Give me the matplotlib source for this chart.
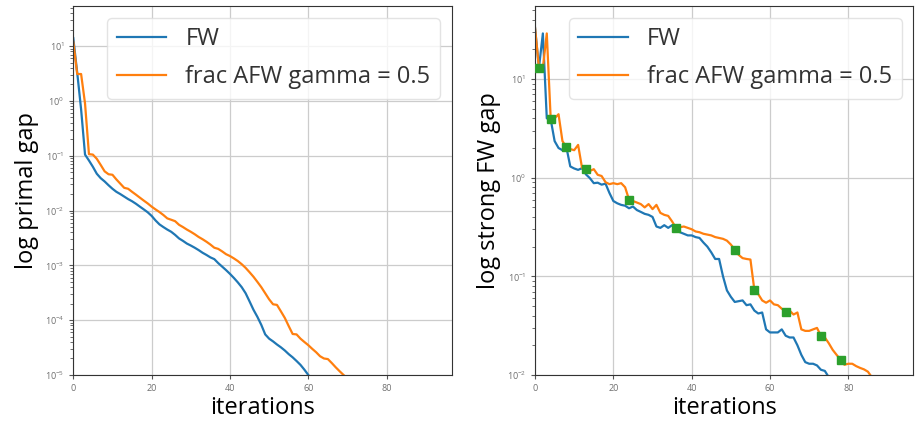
import matplotlib.pyplot as plt
import numpy as np

plt.rcParams["font.family"] = ["Open Sans", "DejaVu Sans"]

# left panel: primal gap
fw_primal = [14, 3.3, 0.7, 0.105, 0.082, 0.063, 0.047, 0.039, 0.034, 0.029,
             0.025, 0.022, 0.020, 0.018, 0.0162, 0.0148, 0.0133, 0.0118, 0.0105, 0.0093,
             0.0080, 0.0066, 0.0056, 0.0050, 0.0045, 0.0041, 0.0036, 0.0031, 0.0028, 0.0025,
             0.0023, 0.0021, 0.0019, 0.0017, 0.00155, 0.0014, 0.0013, 0.0011, 0.00095, 0.00082,
             0.0007, 0.00059, 0.00049, 0.0004, 0.00031, 0.00022, 0.000155, 0.000115, 0.000082, 0.000055,
             0.000046, 0.000041, 0.000036, 0.000032, 0.000028, 0.000024, 0.000021, 0.000018, 0.0000153, 0.0000125,
             0.00001, 0.0000082]
afw_primal = [12, 3.1, 3.1, 0.9, 0.107, 0.105, 0.088, 0.068, 0.052, 0.046,
              0.045, 0.037, 0.031, 0.026, 0.025, 0.022, 0.0195, 0.0172, 0.0152, 0.0135,
              0.0118, 0.0105, 0.0094, 0.0083, 0.0072, 0.0068, 0.0064, 0.0055, 0.005, 0.0045,
              0.0041, 0.0037, 0.0033, 0.003, 0.0027, 0.0024, 0.0021, 0.002, 0.0018, 0.0016,
              0.00148, 0.00134, 0.0012, 0.00105, 0.0009, 0.00075, 0.00062, 0.0005, 0.0004, 0.00031,
              0.00024, 0.000195, 0.00019, 0.000145, 0.00011, 0.000078, 0.000056, 0.000055, 0.000046, 0.00004,
              0.000035, 0.00003, 0.000026, 0.000022, 0.00002, 0.0000195, 0.0000165, 0.0000138, 0.0000117, 0.00001,
              0.0000085]

# right panel: strong FW gap
fw_gap = [33, 13, 29, 4.0, 3.9, 2.35, 2.0, 1.9, 2.04, 1.3,
          1.24, 1.2, 1.25, 1.08, 0.99, 0.88, 0.89, 0.85, 0.87, 0.70,
          0.58, 0.55, 0.53, 0.52, 0.49, 0.51, 0.47, 0.45, 0.43, 0.42,
          0.40, 0.32, 0.31, 0.33, 0.31, 0.33, 0.31, 0.28, 0.27, 0.26,
          0.26, 0.25, 0.245, 0.22, 0.2, 0.175, 0.15, 0.15, 0.1, 0.072,
          0.062, 0.055, 0.056, 0.057, 0.051, 0.052, 0.045, 0.042, 0.043, 0.029,
          0.027, 0.027, 0.027, 0.029, 0.025, 0.024, 0.024, 0.02, 0.016, 0.0135,
          0.013, 0.013, 0.0125, 0.0113, 0.011, 0.0095]
afw_gap = [33, 13, 13, 29, 3.95, 4.0, 4.4, 2.35, 2.04, 1.95,
           1.9, 2.15, 1.26, 1.22, 1.17, 1.22, 1.07, 1.04, 0.9, 0.86,
           0.88, 0.86, 0.88, 0.8, 0.6, 0.58, 0.56, 0.54, 0.5, 0.54,
           0.48, 0.53, 0.44, 0.42, 0.41, 0.36, 0.31, 0.315, 0.32, 0.31,
           0.3, 0.285, 0.28, 0.27, 0.265, 0.26, 0.25, 0.245, 0.24, 0.23,
           0.21, 0.187, 0.165, 0.153, 0.15, 0.148, 0.073, 0.066, 0.057, 0.054,
           0.057, 0.052, 0.051, 0.047, 0.044, 0.045, 0.041, 0.043, 0.029, 0.028,
           0.028, 0.029, 0.030, 0.025, 0.024, 0.021, 0.018, 0.016, 0.0143, 0.0127,
           0.013, 0.013, 0.0123, 0.0118, 0.0114, 0.0108, 0.0095]
marker_iters = [1, 4, 8, 13, 24, 36, 51, 56, 64, 73, 78]

labels = ["FW", "frac AFW gamma = 0.5"]

fig = plt.figure(figsize=(9.16, 4.23), dpi=100)
ax1 = fig.add_axes([0.080, 0.1135, 0.4131, 0.8723])
ax2 = fig.add_axes([0.5841, 0.1135, 0.4130, 0.8723])

ax1.plot(np.arange(len(fw_primal)), fw_primal, color="C0", lw=1.6, label=labels[0])
ax1.plot(np.arange(len(afw_primal)), afw_primal, color="C1", lw=1.6, label=labels[1])
ax1.set_ylim(1e-5, 54)
ax1.set_ylabel("log primal gap", fontsize=17)

ax2.plot(np.arange(len(fw_gap)), fw_gap, color="C0", lw=1.6, label=labels[0])
ax2.plot(np.arange(len(afw_gap)), afw_gap, color="C1", lw=1.6, label=labels[1])
ax2.plot(marker_iters, [afw_gap[i] for i in marker_iters], "s", color="C2",
         markersize=5.5, zorder=3)
ax2.set_ylim(1e-2, 55)
ax2.set_ylabel("log strong FW gap", fontsize=17)

for ax in (ax1, ax2):
    ax.set_yscale("log")
    ax.set_xlim(0, 96.6)
    ax.set_xticks([0, 20, 40, 60, 80])
    ax.set_xlabel("iterations", fontsize=17, labelpad=2)
    ax.grid(True, which="major", color="#cccccc", lw=0.9)
    ax.set_axisbelow(True)
    ax.tick_params(labelsize=6.5, labelcolor="#6f6f6f", color="#555555", length=3)
    ax.tick_params(which="minor", color="#555555", length=2)
    for s in ax.spines.values():
        s.set_color("#333333")
    leg = ax.legend(loc="upper right", fontsize=17, framealpha=0.8,
                    edgecolor="#dddddd", handlelength=2.1, handletextpad=0.8,
                    labelspacing=0.6)
    for t in leg.get_texts():
        t.set_color("#333333")

fig.savefig("out.png", dpi=100)
